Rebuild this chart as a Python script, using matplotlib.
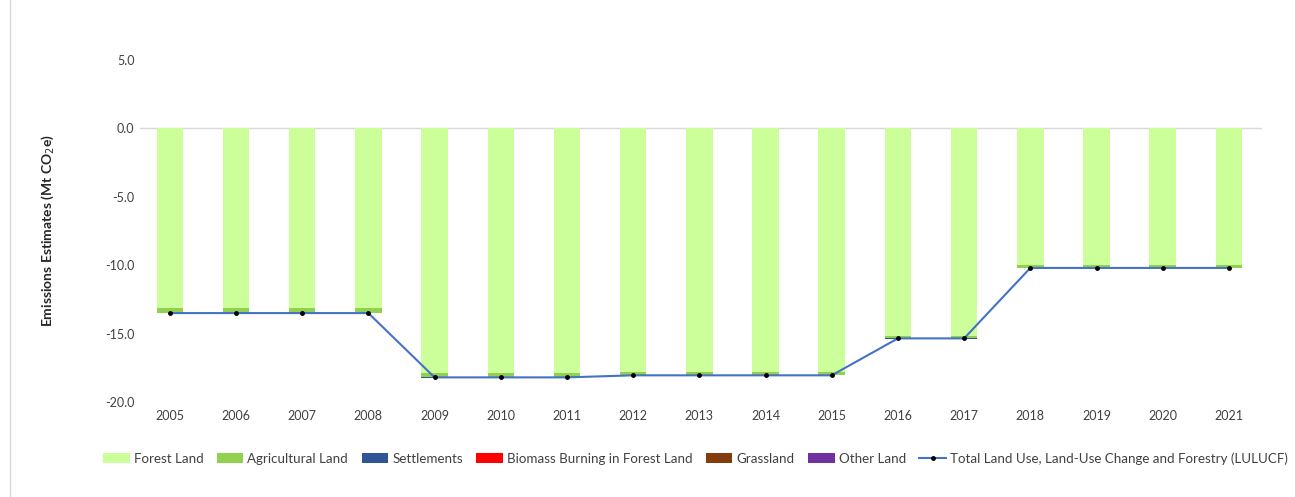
import matplotlib.pyplot as plt
import numpy as np

# LULUCF emission estimates by land category (Mt CO2e)
years = ['2005', '2006', '2007', '2008', '2009', '2010', '2011', '2012', '2013',
         '2014', '2015', '2016', '2017', '2018', '2019', '2020', '2021']
forest_land = [-13.15, -13.15, -13.15, -13.15, -17.85, -17.85, -17.85, -17.8, -17.8,
               -17.8, -17.8, -15.2, -15.2, -10.0, -10.0, -10.0, -10.0]
agricultural_land = [-0.35, -0.35, -0.35, -0.35, -0.35, -0.35, -0.35, -0.25, -0.25,
                     -0.25, -0.25, -0.15, -0.15, -0.2, -0.2, -0.2, -0.2]
settlements = [-0.01, -0.01, -0.01, -0.01, -0.01, -0.01, -0.01, -0.01, -0.01,
               -0.01, -0.01, -0.01, -0.01, -0.01, -0.01, -0.01, -0.01]
biomass_burning = [0.0, 0.0, 0.0, 0.0, 0.0, 0.0, 0.0, 0.0, 0.0,
                   0.0, 0.0, 0.0, 0.0, 0.0, 0.0, 0.0, 0.0]
grassland = [0.0, 0.0, 0.0, 0.0, 0.0, 0.0, 0.0, 0.0, 0.0,
             0.0, 0.0, 0.0, 0.0, 0.0, 0.0, 0.0, 0.0]
other_land = [0.0, 0.0, 0.0, 0.0, 0.0, 0.0, 0.0, 0.0, 0.0,
              0.0, 0.0, 0.0, 0.0, 0.0, 0.0, 0.0, 0.0]
total_lulucf = [-13.5, -13.5, -13.5, -13.5, -18.2, -18.2, -18.2, -18.05, -18.05,
                -18.05, -18.05, -15.35, -15.35, -10.2, -10.2, -10.2, -10.2]

series = [
    ('Forest Land', forest_land, '#ccff99'),
    ('Agricultural Land', agricultural_land, '#92d050'),
    ('Settlements', settlements, '#2f5597'),
    ('Biomass Burning in Forest Land', biomass_burning, '#ff0000'),
    ('Grassland', grassland, '#843c0c'),
    ('Other Land', other_land, '#7030a0'),
]

plt.rcParams['font.family'] = ['Lato', 'DejaVu Sans']

fig = plt.figure(figsize=(12.95, 4.97), dpi=100)
ax = fig.add_axes([140 / 1295, 1 - 402 / 497, (1262 - 140) / 1295, (402 - 60) / 497])

x = np.arange(len(years))
bottom = np.zeros(len(years))
handles = []
for name, vals, color in series:
    vals = np.array(vals)
    h = ax.bar(x, vals, width=0.4, bottom=bottom, color=color, label=name, zorder=2)
    handles.append(h)
    bottom += vals

line, = ax.plot(x, total_lulucf, color='#4472c4', lw=1.5, marker='o', markersize=2.5,
                markerfacecolor='black', markeredgecolor='black', zorder=3,
                label='Total Land Use, Land-Use Change and Forestry (LULUCF)')
handles.append(line)

ax.axhline(0, color='#d9d9d9', lw=1, zorder=1)

ax.set_xlim(-0.45, 16.5)
ax.set_ylim(-20, 5)
ticks = np.arange(-20, 5.1, 5)
ax.set_yticks(ticks)
ax.set_yticklabels([f'{v:.1f}' for v in ticks])
ax.set_xticks(x)
ax.set_xticklabels(years)
ax.tick_params(axis='both', length=0, labelsize=9, colors='#404040')
ax.tick_params(axis='y', pad=4)
ax.tick_params(axis='x', pad=6)
for s in ax.spines.values():
    s.set_visible(False)

ax.set_ylabel('Emissions Estimates (Mt CO$_2$e)', fontsize=10, fontweight='bold',
              color='#262626', labelpad=35)

ax.legend(handles=handles, loc='center', bbox_to_anchor=(0.495, -0.165), ncol=7,
          frameon=False, fontsize=9.6, handlelength=2.0, handleheight=0.7,
          handletextpad=0.3, columnspacing=1.0, labelcolor='#404040')

# thin rule down the left edge of the figure
fig.add_artist(plt.Line2D([10 / 1295, 10 / 1295], [0, 1], color='#d9d9d9', lw=1,
                          transform=fig.transFigure))

fig.savefig('out.png', dpi=100, facecolor='white')
